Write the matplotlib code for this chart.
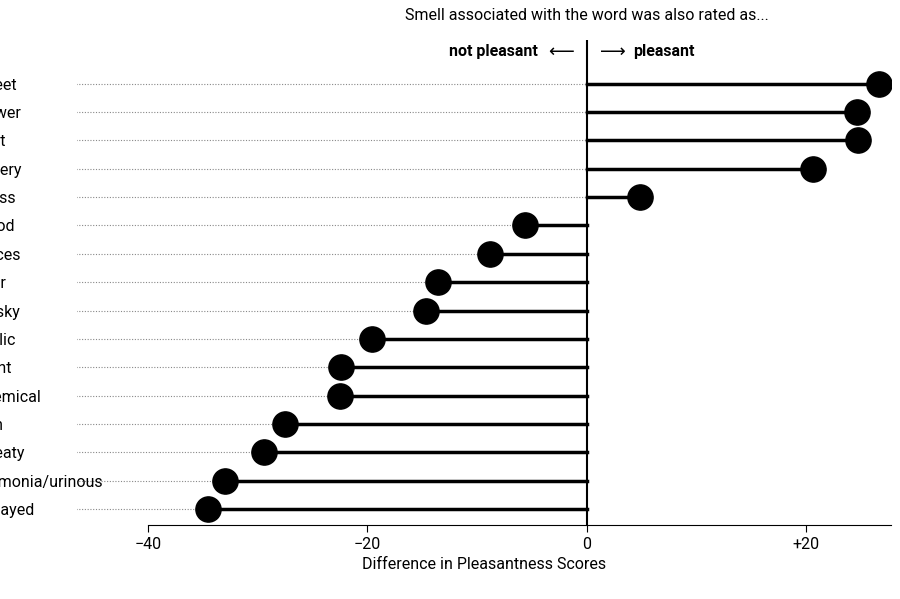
import matplotlib
matplotlib.use("Agg")
import matplotlib.pyplot as plt

categories = ["Sweet","Flower","Fruit","Bakery","Grass","Wood","Spices","Sour","Musky",
              "Garlic","Burnt","Chemical","Fish","Sweaty","Ammonia/urinous","Decayed"]
values = [26.6,24.6,24.7,20.6,4.8,-5.6,-8.8,-13.6,-14.7,-19.6,-22.4,-22.5,-27.5,-29.4,-33.0,-34.5]
xticks = [-40,-20,0,20]
xticklabels = ["\u221240","\u221220","0","+20"]

plt.rcParams["font.family"] = "Roboto"
fig = plt.figure(figsize=(9,5.99), dpi=100)
ax = fig.add_axes([0.085, 0.124, 0.905, 0.81])
n = len(categories)
ys = list(range(n))[::-1]
xmin, xmax = -46.5, 27.7
for y, v in zip(ys, values):
    ax.plot([xmin, min(v, 0)], [y, y], color="#888", lw=0.8, ls=(0,(1,1.5)), zorder=1)
    ax.plot([0, v], [y, y], color="black", lw=2.5, zorder=2)
    ax.scatter([v], [y], s=330, color="black", zorder=3)
ax.axvline(0, color="black", lw=1.5, zorder=2)
ax.set_xlim(xmin, xmax)
ax.set_ylim(-0.55, 16.55)
ax.set_yticks(ys)
ax.set_yticklabels(categories, fontsize=11.5)
for t in ax.get_yticklabels():
    t.set_horizontalalignment("left")
ax.tick_params(axis="y", length=0, pad=74)
ax.set_xticks(xticks)
ax.set_xticklabels(xticklabels, fontsize=11.5)
ax.tick_params(axis="x", length=5)
for s in ["top","right","left"]:
    ax.spines[s].set_visible(False)
ax.spines["bottom"].set_bounds(-40, 27.7)
ax.set_xlabel("Difference in Pleasantness Scores", fontsize=11.5)
ax.text(0, 1.0, "Smell associated with the word was also rated as...", ha="center",
        va="bottom", fontsize=11.5, transform=ax.get_xaxis_transform(),
        position=(0, 1.035))
tr = ax.get_xaxis_transform()
ax.text(-4.5, 0.975, "not pleasant", ha="right", va="center", fontsize=11.5, fontweight="bold", transform=tr)
ax.text(-1.2, 0.975, "\u27f5", ha="right", va="center", fontsize=13, family="DejaVu Sans", transform=tr)
ax.text(1.2, 0.975, "\u27f6", ha="left", va="center", fontsize=13, family="DejaVu Sans", transform=tr)
ax.text(4.2, 0.975, "pleasant", ha="left", va="center", fontsize=11.5, fontweight="bold", transform=tr)
fig.savefig("out.png", dpi=100)
